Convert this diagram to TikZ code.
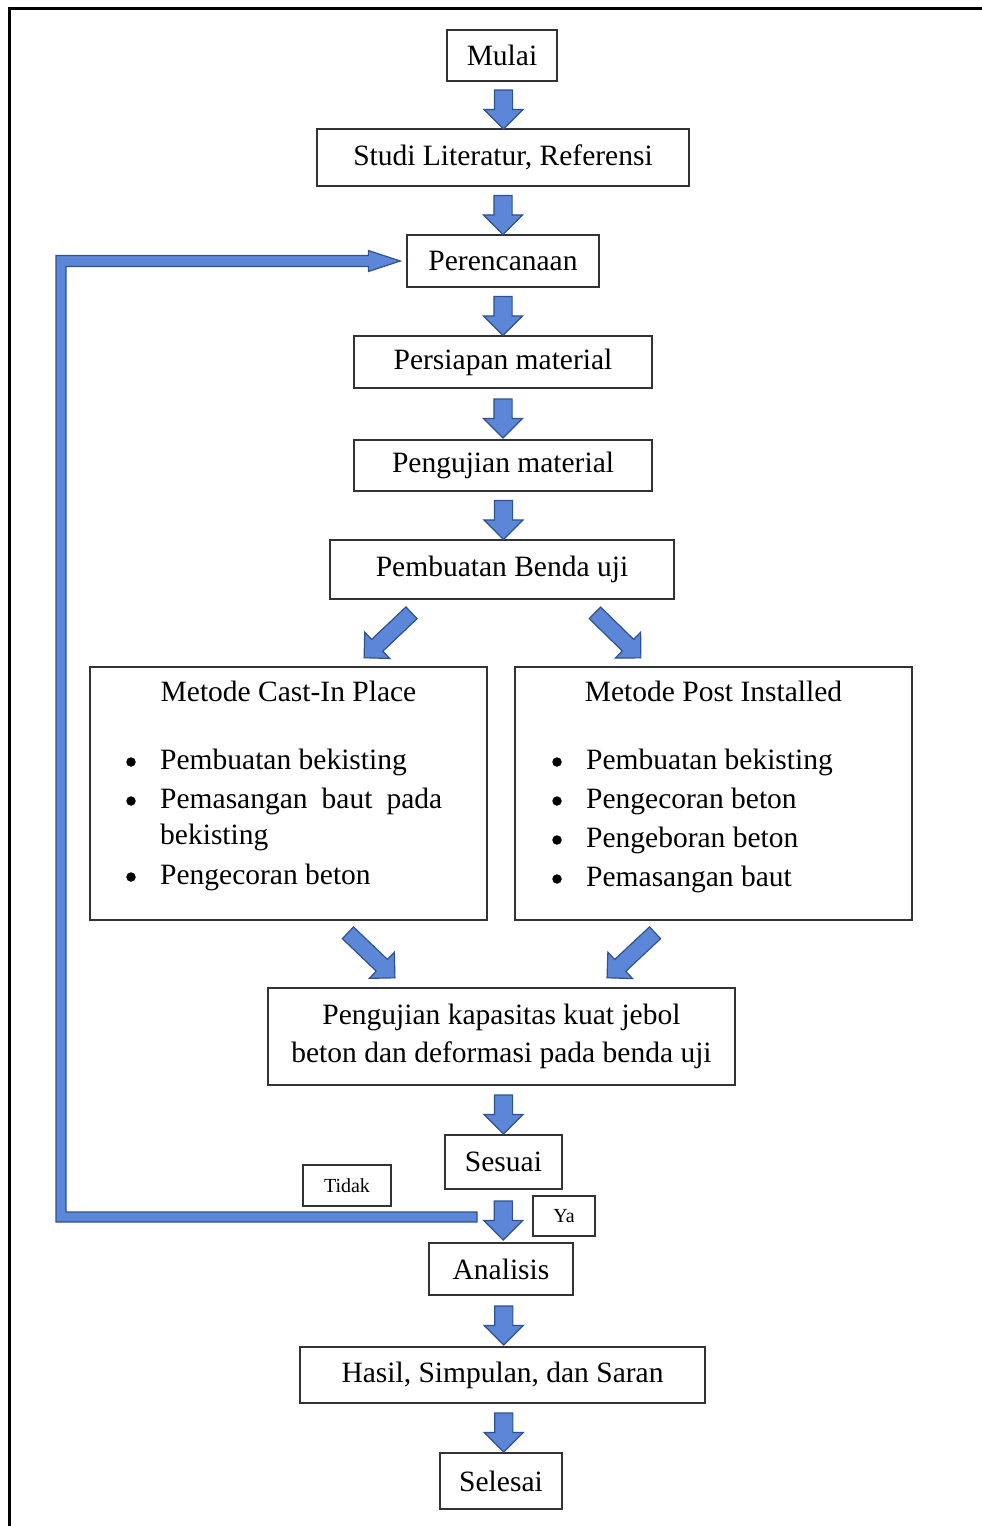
\documentclass[tikz,border=0pt]{standalone}
\usepackage{fontspec}
\setmainfont{Liberation Serif}
\usetikzlibrary{shapes.arrows,calc}
\definecolor{arrowfill}{RGB}{92,134,216}
\definecolor{arrowline}{RGB}{47,82,143}
\newcommand\diagarrow[3]{%
  \path let \p1=($(#3)-(#2)$), \n1={atan2(\y1,\x1)}, \n2={veclen(\x1,\y1)} in
    node[barrow, inner ysep=7.5pt, single arrow head extend=10pt, minimum height=\n2, rotate=\n1] (#1) at ($(#2)!0.5!(#3)$) {};}
\begin{document}
\begin{tikzpicture}[x=1pt,y=-1pt,
  box/.style={draw=black!80, line width=1.3pt, inner sep=0pt, font=\fontsize{29.5}{38}\selectfont, align=center},
  lbl/.style={draw=black!80, line width=1.2pt, inner sep=0pt, font=\fontsize{20}{24}\selectfont},
  txt/.style={inner sep=0pt, font=\fontsize{29.5}{38}\selectfont},
  bul/.style={circle, fill=black, inner sep=0pt, minimum size=9.5pt},
  barrow/.style={shape=single arrow, draw=arrowline, fill=arrowfill, line width=1.2pt, inner xsep=0pt, inner ysep=8.5pt,
    minimum height=39pt, single arrow head extend=10.5pt, single arrow tip angle=90},
  fbline/.style={draw=arrowline, fill=arrowfill, line width=1.2pt, line join=miter}]
\useasboundingbox (0,0) rectangle (982,1526);
% outer frame
\draw[line width=3pt, line cap=rect] (982,8.5) -- (9.5,8.5) -- (9.5,1530);

% boxes
\node[box, minimum width=110pt, minimum height=51pt] (mulai) at (502,55.5) {Mulai};
\node[box, minimum width=372pt, minimum height=57pt] (studi) at (503,157.5) {Studi Literatur, Referensi};
\node[box, minimum width=192pt, minimum height=52pt] (rencana) at (503,261) {Perencanaan};
\node[box, minimum width=298pt, minimum height=52pt] (persiapan) at (503,362) {Persiapan material};
\node[box, minimum width=298pt, minimum height=51pt] (pengujian) at (503,465.5) {Pengujian material};
\node[box, minimum width=344pt, minimum height=59pt] (pembuatan) at (502,569.5) {Pembuatan Benda uji};
\node[box, minimum width=397pt, minimum height=253pt] (cast) at (288.5,793.5) {};
\node[box, minimum width=397pt, minimum height=253pt] (post) at (713.5,793.5) {};
\node[box, minimum width=467pt, minimum height=97pt] (kapasitas) at (501.5,1036.5) {Pengujian kapasitas kuat jebol\\beton dan deformasi pada benda uji};
\node[box, minimum width=117pt, minimum height=54pt] (sesuai) at (503.5,1162) {Sesuai};
\node[lbl, minimum width=88pt, minimum height=41pt] (tidak) at (347,1185.5) {Tidak};
\node[lbl, minimum width=62pt, minimum height=40pt] (ya) at (564,1216) {Ya};
\node[box, minimum width=144pt, minimum height=52pt] (analisis) at (501,1269) {Analisis};
\node[box, minimum width=405pt, minimum height=56pt] (hasil) at (502.5,1375) {Hasil, Simpulan, dan Saran};
\node[box, minimum width=122pt, minimum height=56pt] (selesai) at (501,1481) {Selesai};

% contents of method boxes
\node[txt, anchor=base] (castT) at (288.5,701) {Metode Cast-In Place};
\node[bul] (castB1) at (131,762) {};
\node[txt, anchor=base west] (castL1) at (160,769) {Pembuatan bekisting};
\node[bul] (castB2) at (131,801) {};
\node[txt, anchor=base west] (castL2) at (160,808) {\makebox[282pt][s]{Pemasangan baut pada}};
\node[txt, anchor=base west] (castL3) at (160,844) {bekisting};
\node[bul] (castB3) at (131,877) {};
\node[txt, anchor=base west] (castL4) at (160,884) {Pengecoran beton};

\node[txt, anchor=base] (postT) at (713.5,701) {Metode Post Installed};
\node[bul] (postB1) at (557,762) {};
\node[txt, anchor=base west] (postL1) at (586,769) {Pembuatan bekisting};
\node[bul] (postB2) at (557,801) {};
\node[txt, anchor=base west] (postL2) at (586,808) {Pengecoran beton};
\node[bul] (postB3) at (557,840) {};
\node[txt, anchor=base west] (postL3) at (586,847) {Pengeboran beton};
\node[bul] (postB4) at (557,879) {};
\node[txt, anchor=base west] (postL4) at (586,886) {Pemasangan baut};

% vertical block arrows
\node[barrow, rotate=-90] (a1) at ($(mulai.south)!0.5!(studi.north)+(1,0)$) {};
\node[barrow, rotate=-90] (a2) at ($(studi.south)!0.5!(rencana.north)$) {};
\node[barrow, rotate=-90] (a3) at ($(rencana.south)!0.5!(persiapan.north)$) {};
\node[barrow, rotate=-90] (a4) at ($(persiapan.south)!0.5!(pengujian.north)$) {};
\node[barrow, rotate=-90] (a5) at ($(pengujian.south)!0.5!(pembuatan.north)+(1,0)$) {};
\node[barrow, rotate=-90] (a6) at ($(kapasitas.south)!0.5!(sesuai.north)+(1,0)$) {};
\node[barrow, rotate=-90] (a7) at ($(sesuai.south)!0.5!(analisis.north)+(1,0)$) {};
\node[barrow, rotate=-90] (a8) at ($(analisis.south)!0.5!(hasil.north)+(2,0)$) {};
\node[barrow, rotate=-90] (a9) at ($(hasil.south)!0.5!(selesai.north)+(2,0)$) {};

% diagonal block arrows
\coordinate (dl1s) at (414.5,610); \coordinate (dl1e) at (367,655);
\coordinate (dr1s) at (592,610);   \coordinate (dr1e) at (638,655);
\coordinate (dl2s) at (345,930);   \coordinate (dl2e) at (392,975);
\coordinate (dr2s) at (658,930);   \coordinate (dr2e) at (610,975);
\diagarrow{d1}{dl1s}{dl1e}
\diagarrow{d2}{dr1s}{dr1e}
\diagarrow{d3}{dl2s}{dl2e}
\diagarrow{d4}{dr2s}{dr2e}

% feedback loop (Tidak) back to Perencanaan
\coordinate (fbfrom) at (477,1217);
\coordinate (fbtip) at ($(rencana.west)+(-6,0)$);
\filldraw[fbline] let \p1=(fbfrom), \p2=(fbtip), \n1={61pt} in
  (\x1,\y1+5pt) -- (\n1+5pt,\y1+5pt) -- (\n1+5pt,\y2-5.5pt) -- (\x2-32pt,\y2-5.5pt)
  -- (\x2-32pt,\y2-10.5pt) -- (\x2,\y2) -- (\x2-32pt,\y2+10.5pt) -- (\x2-32pt,\y2+5.5pt)
  -- (\n1-5pt,\y2+5.5pt) -- (\n1-5pt,\y1-5pt) -- (\x1,\y1-5pt) -- cycle;
\end{tikzpicture}
\end{document}
